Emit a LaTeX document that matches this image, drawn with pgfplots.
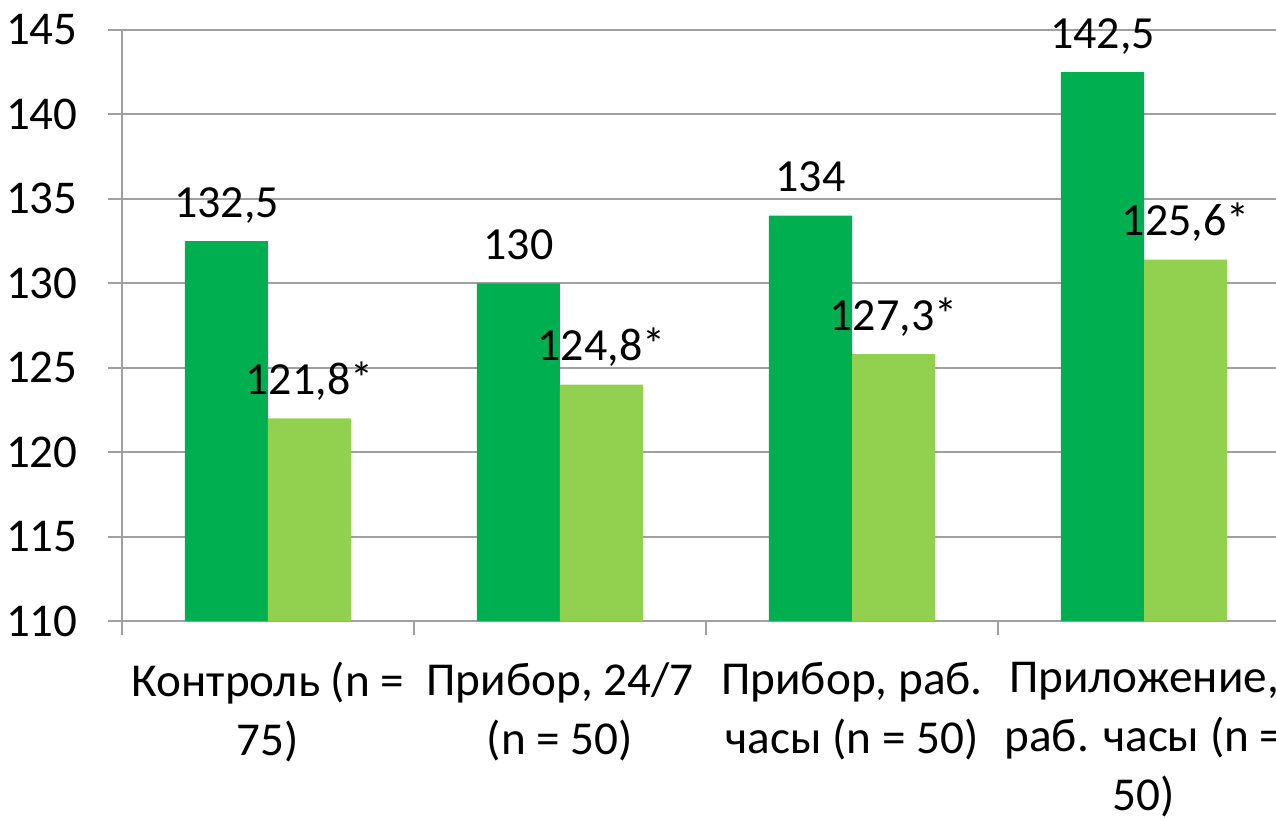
\documentclass[border=0pt]{standalone}
\usepackage{pgfplots}
\pgfplotsset{compat=1.18}
\usepackage{fontspec}
\setmainfont{Carlito}
\definecolor{dg}{HTML}{00B050}
\definecolor{lg}{HTML}{92D050}
\definecolor{gr}{HTML}{A0A0A0}
\begin{document}
\begin{tikzpicture}
\useasboundingbox (0,0) rectangle (638pt,410pt);
\begin{axis}[
  at={(61pt,99.5pt)}, anchor=south west,
  scale only axis, width=584pt, height=295.5pt,
  ybar=0pt, bar width=41.5pt,
  xmin=-0.5, xmax=3.5, ymin=110, ymax=145,
  ytick={110,115,...,145},
  xtick={-0.5,0.5,1.5,2.5,3.5}, xticklabels={},
  extra x ticks={0,1,2,3},
  extra x tick labels={{Контроль (n =\\75)},{Прибор, 24/7\\(n = 50)},{Прибор, раб.\\часы (n = 50)},{Приложение,\\раб. часы (n =\\50)}},
  extra x tick style={tick style={draw=none}, grid=none},
  axis lines*=left,
  tick align=outside, major tick length=7pt,
  ymajorgrids, grid style={gr, line width=1pt},
  axis line style={gr, line width=1pt},
  tick style={gr, line width=1pt},
  /pgf/number format/assume math mode=true,
  yticklabel style={font=\fontsize{23.5}{28}\selectfont, anchor=east, inner sep=0pt, xshift=-15pt},
  xticklabel style={font=\fontsize{23.6}{29.5}\selectfont, align=center, anchor=north, inner sep=0pt, yshift=-13.5pt},
  point meta=explicit symbolic,
  nodes near coords,
  nodes near coords style={font=\fontsize{23}{28}\selectfont, anchor=base, yshift=12pt, text=black, inner sep=0pt},
]
\addplot[fill=dg, draw=none] table[x=x, y=y, meta=lab] {
x y lab
0 132.5 132,5
1 130.0 130
2 134.0 134
3 142.5 142,5
};
\addplot[fill=lg, draw=none] table[x=x, y=y, meta=lab] {
x y lab
0 122.0 121,8*
1 124.0 124,8*
2 125.8 127,3*
3 131.4 125,6*
};
\end{axis}
\end{tikzpicture}
\end{document}
